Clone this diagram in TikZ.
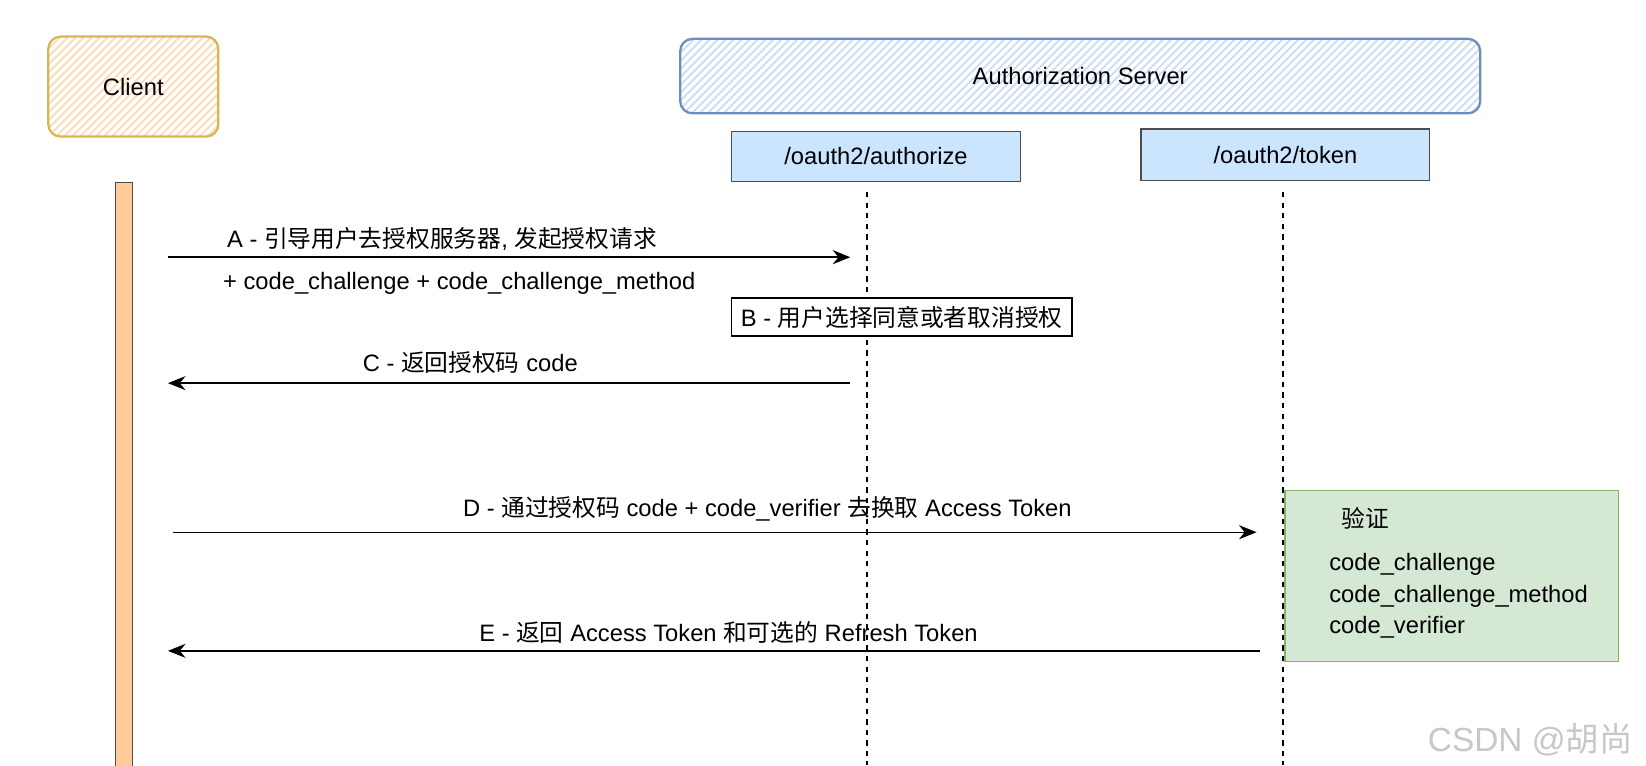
\documentclass[tikz,border=0pt]{standalone}
\usepackage{fontspec}
\setmainfont{Liberation Sans}
\newfontfamily\cjk{Noto Sans CJK SC}
\usepackage{xcolor}
\usetikzlibrary{positioning, patterns.meta, arrows.meta}
\definecolor{clientline}{HTML}{D6B656}
\definecolor{clienthatch}{HTML}{FFD9B0}
\definecolor{serverline}{HTML}{6C8EBF}
\definecolor{serverhatch}{HTML}{C9DCF5}
\definecolor{endpointfill}{HTML}{CCE5FF}
\definecolor{barfill}{HTML}{FFCC99}
\definecolor{verifyfill}{HTML}{D5E8D4}
\definecolor{verifyline}{HTML}{82B366}
\newcommand{\zh}[1]{{\cjk #1}}
\tikzstyle{actor} = [rectangle, rounded corners=7pt, line width=1.3pt, text centered]
\tikzstyle{endpoint} = [rectangle, minimum width=5.775cm, text centered, draw=black!70, fill=endpointfill, line width=0.7pt]
\tikzstyle{lifeline} = [line width=0.8pt, dash pattern=on 3pt off 3pt]
\tikzstyle{arrow} = [line width=0.8pt, -{Stealth[length=10pt,width=8pt]}]
\tikzstyle{note} = [rectangle, draw=black, fill=white, line width=0.8pt, text centered]
\tikzstyle{every node}=[font=\fontsize{13.5}{16}\selectfont]

\begin{document}
\begin{tikzpicture}[x=0.021cm, y=-0.021cm]
		\useasboundingbox (0,0) rectangle (1568,729);
		% participants
		\node (client) [actor, draw=clientline, minimum width=3.4cm, minimum height=2cm,
			pattern={Lines[angle=45,distance=3.2pt,line width=1pt]}, pattern color=clienthatch] at (127,82.5) {Client};
		\node (server) [actor, draw=serverline, minimum width=16cm, minimum height=1.49cm,
			pattern={Lines[angle=45,distance=3.2pt,line width=1pt]}, pattern color=serverhatch] at (1029,72.5) {Authorization Server};
		\node (authorize) [endpoint, minimum height=1.01cm] at (834.5,149) {/oauth2/authorize};
		\node (token) [endpoint, minimum height=1.03cm] at (1224.5,147.5) {/oauth2/token};
		\node (bar) [rectangle, draw=black!70, fill=barfill, line width=0.7pt, anchor=north,
			minimum width=0.336cm, minimum height=12cm, inner sep=0pt] at (118,173) {};
		% lifelines
		\coordinate (authTop) at (826,183);
		\coordinate (authBot) at (826,729);
		\coordinate (tokenTop) at (1222,183);
		\coordinate (tokenBot) at (1222,729);
		\draw [lifeline](authTop) -- (authBot);
		\draw [lifeline](tokenTop) -- (tokenBot);
		% messages
		\coordinate (a1) at (160,245);
		\coordinate (a2) at (810,245);
		\coordinate (c1) at (810,365);
		\coordinate (c2) at (160,365);
		\coordinate (d1) at (165,507);
		\coordinate (d2) at (1197,507);
		\coordinate (e1) at (1200,620);
		\coordinate (e2) at (160,620);
		\draw [arrow](a1) -- (a2);
		\draw [arrow](c1) -- (c2);
		\draw [arrow](d1) -- (d2);
		\draw [arrow](e1) -- (e2);
		\node (lblA) at (421,228) {A - \zh{引导用户去授权服务器}, \zh{发起授权请求}};
		\node (lblA2) at (437.5,270) {+ code\_challenge + code\_challenge\_method};
		\node (stepB) [note, minimum width=6.804cm, minimum height=0.756cm, inner sep=1pt] at (859,302) {B - \zh{用户选择同意或者取消授权}\hspace{6pt}};
		\node (lblC) at (448,345) {C - \zh{返回授权码} code};
		\node (lblD) at (731,485) {D - \zh{通过授权码} code + code\_verifier \zh{去换取} Access Token};
		\node (lblE) at (694,602) {E - \zh{返回} Access Token \zh{和可选的} Refresh Token};
		% verification
		\node (verify) [rectangle, draw=verifyline, fill=verifyfill, line width=0.8pt,
			minimum width=6.678cm, minimum height=3.423cm] at (1383,548.5) {};
		\node (verifyTitle) [anchor=west, inner sep=0pt] at (1278,494) {\zh{验证}};
		\node (verifyList) [anchor=north west, align=left, inner sep=0pt,
			font=\fontsize{13.5}{17.9}\selectfont] at (1266,527) {code\_challenge\\code\_challenge\_method\\code\_verifier};
		% watermark
		\node (mark) [anchor=east, text=black!22, font=\fontsize{19}{22}\selectfont] at (1561,705) {CSDN @\zh{胡尚}};
	\end{tikzpicture}
\end{document}
